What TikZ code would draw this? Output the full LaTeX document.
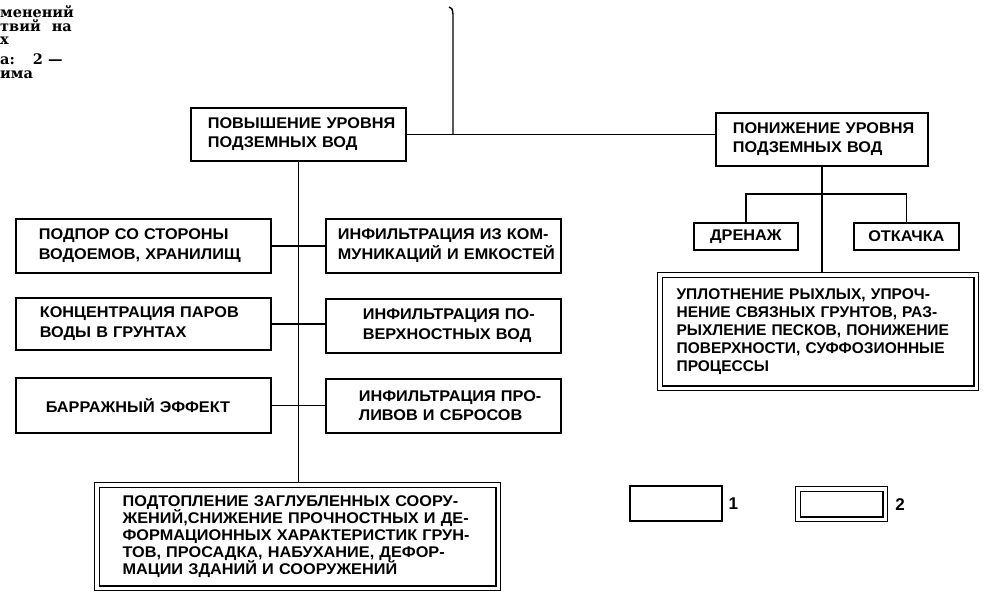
\documentclass[tikz,border=0pt]{standalone}
\usepackage{fontspec}
\setmainfont{Liberation Sans}
\newfontfamily\boxfont{Liberation Sans}[FakeStretch=1.05]
\newfontfamily\capfont{DejaVu Serif}
\newcommand{\bxt}[2]{\lineskiplimit=-20pt\relax\leftskip=#1pt\relax #2\par}
\begin{document}
\begin{tikzpicture}[x=1pt,y=-1pt,
  box/.style={draw, line width=1.7pt, anchor=north west, inner xsep=4pt, inner ysep=0pt,
    align=left, font=\boxfont\bfseries\fontsize{15.5}{19.5}\selectfont},
  cbox/.style={box, align=center},
  dbox/.style={box, line width=1.2pt},
  innerline/.style={line width=1.7pt},
  conn/.style={line width=1.4pt},
  captext/.style={anchor=base west, inner sep=0pt, text height=8pt, text depth=0pt,
    font=\capfont\bfseries\fontsize{14.5}{14.5}\selectfont},
  legbox/.style={draw, line width=1.5pt, anchor=north west, inner sep=0pt, minimum width=92pt, minimum height=35pt},
  legtext/.style={anchor=west, inner sep=0pt, font=\bfseries\fontsize{17}{17}\selectfont}]
\useasboundingbox (0,0) rectangle (996,597);

% caption fragment
\node[captext] (c1) at (0,17) {менений};
\node[captext] (c2) at (0,31) {твий\hspace{11pt}на};
\node[captext] (c3) at (0,44) {х};
\node[captext] (c4) at (0,64) {а:\hspace{18pt}2 —};
\node[captext] (c5) at (0,78) {има};

% top level
\node[box, text width=207pt, minimum height=53pt] (P) at (190,107)
  {\bxt{13}{ПОВЫШЕНИЕ УРОВНЯ\\ПОДЗЕМНЫХ ВОД}};
\node[box, text width=204pt, minimum height=53pt] (N) at (715,112)
  {\bxt{13}{ПОНИЖЕНИЕ УРОВНЯ\\ПОДЗЕМНЫХ ВОД}};

% left branch
\node[box, text width=247pt, minimum height=54pt] (L1) at (15,218)
  {\bxt{19}{ПОДПОР СО СТОРОНЫ\\ВОДОЕМОВ, ХРАНИЛИЩ}};
\node[box, text width=247pt, minimum height=52pt] (L2) at (15,297)
  {\bxt{20}{КОНЦЕНТРАЦИЯ ПАРОВ\\ВОДЫ В ГРУНТАХ}};
\node[box, text width=247pt, minimum height=55pt] (L3) at (15,377)
  {\bxt{26}{БАРРАЖНЫЙ ЭФФЕКТ}};
\node[box, text width=227pt, minimum height=54pt] (M1) at (325,218)
  {\bxt{8}{ИНФИЛЬТРАЦИЯ ИЗ КОМ-\\МУНИКАЦИЙ И ЕМКОСТЕЙ}};
\node[box, text width=227pt, minimum height=54pt] (M2) at (325,298)
  {\bxt{33}{ИНФИЛЬТРАЦИЯ ПО-\\ВЕРХНОСТНЫХ ВОД}};
\node[box, text width=227pt, minimum height=54pt] (M3) at (325,378)
  {\bxt{29}{ИНФИЛЬТРАЦИЯ ПРО-\\ЛИВОВ И СБРОСОВ}};
\node[dbox, text width=398pt, minimum height=108pt,
  font=\boxfont\bfseries\fontsize{15.5}{16.9}\selectfont] (B) at (94,482)
  {\bxt{24}{ПОДТОПЛЕНИЕ ЗАГЛУБЛЕННЫХ СООРУ-\\ЖЕНИЙ,СНИЖЕНИЕ ПРОЧНОСТНЫХ И ДЕ-\\ФОРМАЦИОННЫХ ХАРАКТЕРИСТИК ГРУН-\\ТОВ, ПРОСАДКА, НАБУХАНИЕ, ДЕФОР-\\МАЦИИ ЗДАНИЙ И СООРУЖЕНИЙ}};
\draw[innerline] ([xshift=5.5pt,yshift=-5.5pt]B.north west) rectangle ([xshift=-5.5pt,yshift=5.5pt]B.south east);

% right branch
\node[cbox, text width=96pt, minimum height=27pt] (D) at (693,222) {ДРЕНАЖ};
\node[cbox, text width=97pt, minimum height=27pt] (O) at (853,222) {ОТКАЧКА};
\node[dbox, text width=313pt, minimum height=118pt,
  font=\bfseries\fontsize{15.5}{17.8}\selectfont] (U) at (657,272)
  {\bxt{15}{УПЛОТНЕНИЕ РЫХЛЫХ, УПРОЧ-\\НЕНИЕ СВЯЗНЫХ ГРУНТОВ, РАЗ-\\РЫХЛЕНИЕ ПЕСКОВ, ПОНИЖЕНИЕ\\ПОВЕРХНОСТИ, СУФФОЗИОННЫЕ\\ПРОЦЕССЫ}};
\draw[innerline] ([xshift=5.5pt,yshift=-5.5pt]U.north west) rectangle ([xshift=-5.5pt,yshift=5.5pt]U.south east);

% legend
\node[legbox] (G1) at (629,485) {};
\node[legtext] (G1t) at ([xshift=6pt]G1.east) {1};
\node[legbox, line width=1.2pt] (G2) at (795,486) {};
\draw[innerline] ([xshift=5.5pt,yshift=-5.5pt]G2.north west) rectangle ([xshift=-5.5pt,yshift=5.5pt]G2.south east);
\node[legtext] (G2t) at ([xshift=7pt]G2.east) {2};

% connectors
\coordinate (T) at (449,7);
\draw[conn] (T) .. controls (452,8) .. (453,14) -- (453,14 |- P.east);
\draw[conn] (P.east) -- (P.east -| N.west);
\draw[conn] (P.south) -- (P.south |- B.north);
\draw[conn] (L1.east) -- (L1.east -| M1.west);
\draw[conn] (L2.east) -- (L2.east -| M2.west);
\draw[conn] (L3.east) -- (L3.east -| M3.west);
\draw[conn] (N.south) -- (N.south |- U.north);
\coordinate (br) at (821,194);
\draw[conn] (D.north) |- (br) -| (O.north);
\end{tikzpicture}
\end{document}
